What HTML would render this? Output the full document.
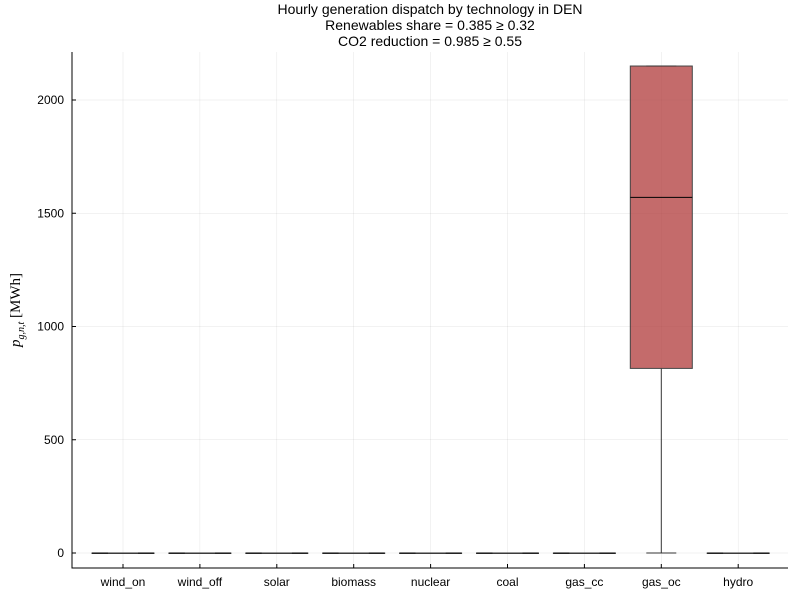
<!DOCTYPE html>
<html><head><meta charset="utf-8"><style>body{margin:0;background:#fff}svg{display:block;font-family:"Liberation Sans",sans-serif}</style></head>
<body>
<svg id="c" width="800" height="600"></svg>
<script>
const categories=["wind_on","wind_off","solar","biomass","nuclear","coal","gas_cc","gas_oc","hydro"];
const mins=[0,0,0,0,0,0,0,0,0];
const q1s=[0,0,0,0,0,0,0,815,0];
const medians=[0,0,0,0,0,0,0,1570,0];
const q3s=[0,0,0,0,0,0,0,2150,0];
const maxs=[0,0,0,0,0,0,0,2150,0];
const yTicks=[0,500,1000,1500,2000];
const NS="http://www.w3.org/2000/svg";
const svg=document.getElementById('c');
const L=72,R=788,T=52,B=568;
const y=v=>553-v*(453/2000);
const x=i=>123+i*76.9;
function el(t,a,p){const e=document.createElementNS(NS,t);for(const k in a)e.setAttribute(k,a[k]);(p||svg).appendChild(e);return e;}
const title=el('text',{x:430,y:14,'text-anchor':'middle','font-size':14});


["Hourly generation dispatch by technology in DEN","Renewables share = 0.385 ≥ 0.32","CO2 reduction = 0.985 ≥ 0.55"].forEach((s,i)=>{const t=el('tspan',{x:430,dy:i?16:0},title);t.textContent=s;});
yTicks.forEach(v=>{
  const g=el('line',{x1:L,x2:R,y1:y(v),y2:y(v),stroke:'#000','stroke-opacity':0.1,'stroke-width':0.5});
  
  
  const t=el('text',{x:L-8,y:y(v)+4,'text-anchor':'end','font-size':12});
  
  
  t.textContent=v;
  el('line',{x1:L,x2:L+4,y1:y(v),y2:y(v),stroke:'#000'});
});
categories.forEach((c,i)=>{
  const g=el('line',{x1:x(i),x2:x(i),y1:T,y2:B,stroke:'#000','stroke-opacity':0.1,'stroke-width':0.5});
  
  
  const t=el('text',{x:x(i),y:B+18,'text-anchor':'middle','font-size':12});
  
  
  t.textContent=c;
  el('line',{x1:x(i),x2:x(i),y1:B,y2:B-4,stroke:'#000'});
  const w=62,xl=x(i)-w/2;
  const wl=el('line',{x1:x(i),x2:x(i),y1:y(mins[i]),y2:y(q1s[i]),stroke:'#333','stroke-width':1});
  
  
  const wu=el('line',{x1:x(i),x2:x(i),y1:y(q3s[i]),y2:y(maxs[i]),stroke:'#333','stroke-width':1});
  
  
  const bx=el('rect',{x:xl,y:y(q3s[i]),width:w,height:Math.max(0.5,y(q1s[i])-y(q3s[i])),fill:'#b03a3a','fill-opacity':0.75,stroke:'#444','stroke-width':1});
  
  
  const md=el('line',{x1:xl,x2:xl+w,y1:y(medians[i]),y2:y(medians[i]),stroke:'#000','stroke-width':1});
  
  
  el('line',{x1:x(i)-15,x2:x(i)+15,y1:y(maxs[i]),y2:y(maxs[i]),stroke:'#333'});
  el('line',{x1:x(i)-15,x2:x(i)+15,y1:y(mins[i]),y2:y(mins[i]),stroke:'#333'});
});
const ax=el('path',{d:`M${L},${T}V${B}H${R}`,fill:'none',stroke:'#000','stroke-width':1});


const yl=el('text',{transform:'translate(20,310) rotate(-90)','text-anchor':'middle','font-size':15,'font-family':'Liberation Serif, serif'});


yl.innerHTML='<tspan font-style="italic">p</tspan><tspan font-size="10" dy="4" font-style="italic">g,n,t</tspan><tspan dy="-4"> [MWh]</tspan>';
</script>
</body></html>
